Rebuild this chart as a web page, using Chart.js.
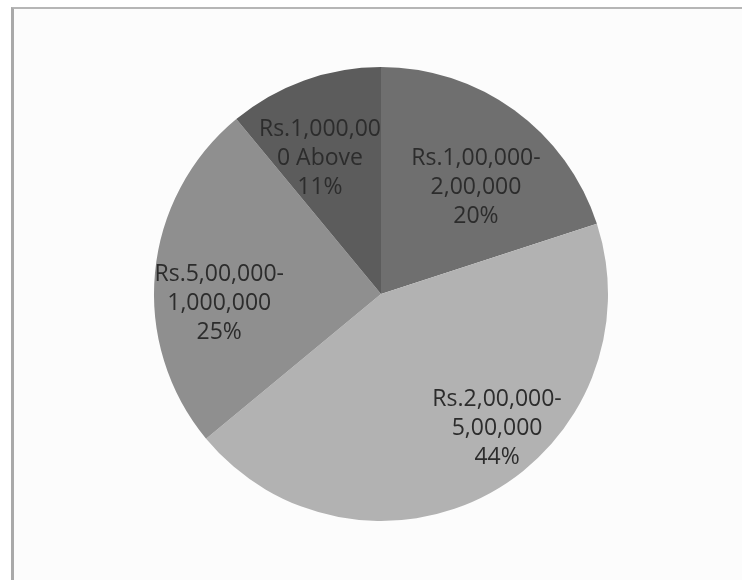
<!DOCTYPE html>
<html>
<head>
<meta charset="utf-8">
<script src="https://cdn.jsdelivr.net/npm/chart.js@4/dist/chart.umd.min.js"></script>
<style>
    body{ margin:0; background:#ffffff; }
    #box{
        position:absolute; left:11px; top:7px; width:731px; height:573px;
        border-top:2px solid #b6b6b6; border-left:3px solid #a9a9a9;
        background:#fcfcfc;
    }
    #wrap{ position:absolute; left:0; top:0; width:742px; height:580px; }
</style>
</head>
<body>
<div id="box"></div>
<div id="wrap"><canvas id="myChart" width="742" height="580"></canvas></div>
<script>
// income groups, clockwise from 12 o'clock
var categories = [
    ["Rs.1,00,000-", "2,00,000"],
    ["Rs.2,00,000-", "5,00,000"],
    ["Rs.5,00,000-", "1,000,000"],
    ["Rs.1,000,00", "0 Above"]
];
var shares = [20, 44, 25, 11];
var sliceColors = ["#6f6f6f", "#b2b2b2", "#8f8f8f", "#5c5c5c"];

// label placement inside each slice: angle nudge (deg) and radius fraction
var labelShift = [5.6, -11.9, -8.9, -4.4];
var labelRadius = [0.63, 0.784, 0.714, 0.656];

var sliceLabels = {
    id: 'sliceLabels',
    afterDatasetsDraw: function(chart){
        var ctx = chart.ctx;
        var arcs = chart.getDatasetMeta(0).data;
        ctx.save();
        ctx.font = '23px "Open Sans"';
        ctx.fillStyle = '#2c2c2c';
        ctx.textAlign = 'center';
        ctx.textBaseline = 'middle';
        for(var i = 0; i < arcs.length; i++){
            var a = arcs[i];
            var mid = (a.startAngle + a.endAngle) / 2 + labelShift[i] * Math.PI / 180;
            var r = a.outerRadius * labelRadius[i];
            var cx = a.x + Math.cos(mid) * r;
            var cy = a.y + Math.sin(mid) * r;
            var lines = chart.data.labels[i].concat([shares[i] + '%']);
            for(var j = 0; j < lines.length; j++){
                ctx.fillText(lines[j], cx, cy + (j - 1) * 29);
            }
        }
        ctx.restore();
    }
};

var ctx = document.getElementById('myChart').getContext('2d');
var myChart = new Chart(ctx, {
    type: 'pie',
    data: {
        labels: categories,
        datasets: [{
            data: shares,
            backgroundColor: sliceColors,
            borderWidth: 0
        }]
    },
    options: {
        responsive: false,
        animation: false,
        layout: { padding: { left: 20, right: 0, top: 67, bottom: 59 } },
        plugins: {
            legend: { display: false },
            tooltip: { enabled: false }
        }
    },
    plugins: [sliceLabels]
});
</script>
</body>
</html>
